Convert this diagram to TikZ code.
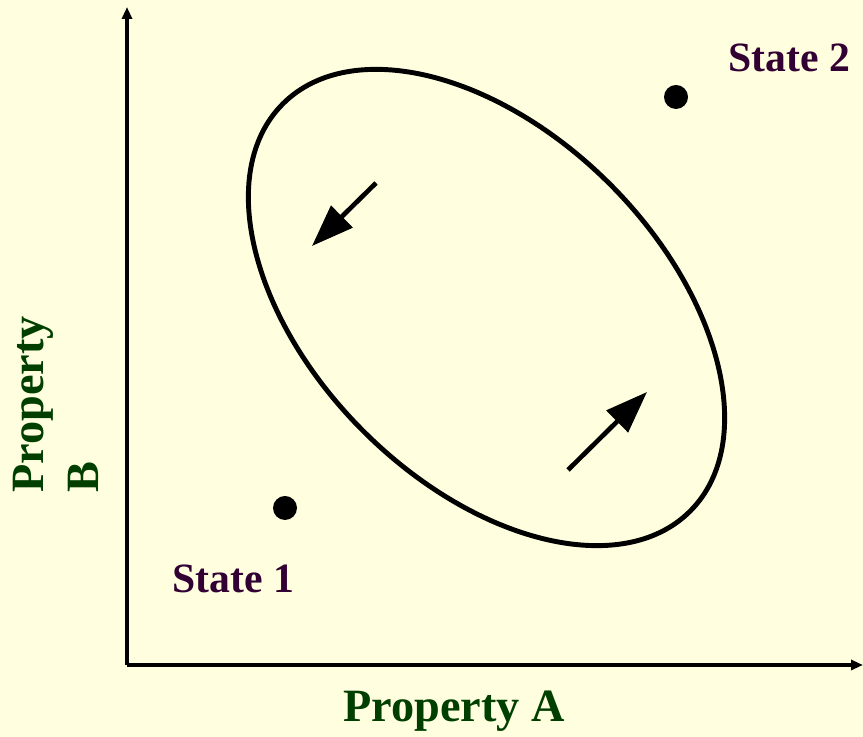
\documentclass[tikz,border=0pt]{standalone}
\usepackage{fontspec}
\setmainfont{Liberation Serif}
\usetikzlibrary{arrows.meta}
\definecolor{bgyellow}{HTML}{FFFFE0}
\definecolor{axisgreen}{HTML}{003F00}
\definecolor{statepurple}{HTML}{330033}

\begin{document}
\begin{tikzpicture}[
  x=0.03cm, y=0.03cm,
  axis line/.style={line width=2.6pt, -{Triangle[length=0.36cm,width=0.3cm]}},
  flow arrow/.style={line width=4pt, -{Triangle[length=1.26cm,width=0.9cm]}},
  state dot/.style={circle, fill=black, inner sep=0pt, minimum size=0.72cm},
  axis text/.style={text=axisgreen, inner sep=0pt, font=\fontsize{39.5}{46.8}\selectfont\bfseries},
  state text/.style={text=statepurple, inner sep=0pt, font=\fontsize{35.6}{40}\selectfont\bfseries}]

    \fill[bgyellow] (0,0) rectangle (863,737);
    \useasboundingbox (0,0) rectangle (863,737);

    \node at (127, 72) (o) {};
    \node at (127, 730) (ytop) {};
    \node at (863, 72) (xend) {};

    \draw[axis line] (o.center) -- (ytop.center);
    \draw[axis line] (o.center) -- (xend.center);

    \node at (486.5, 429.5) (c) {};
    \draw[line width=4.2pt, rotate around={-45:(c.center)}] (c.center) ellipse [x radius=288, y radius=174.5];

    \node at (376, 554) (a1s) {};
    \node at (312, 491) (a1e) {};
    \node at (568, 267) (a2s) {};
    \node at (647, 345) (a2e) {};

    \draw[flow arrow] (a1s.center) -- (a1e.center);
    \draw[flow arrow] (a2s.center) -- (a2e.center);

    \node[state dot] at (285, 229) (s1) {};
    \node[state dot] at (676, 640) (s2) {};

    \node[state text, anchor=base west] at (172, 144) (s1txt) {State 1};
    \node[state text, anchor=base west] at (728, 665) (s2txt) {State 2};

    \node[axis text, anchor=base west] at (343, 15) (xlab) {Property A};
    \node[axis text, rotate=90, anchor=north west, align=left] at (13, 244) (ylab) {Property\\B};

\end{tikzpicture}
\end{document}
